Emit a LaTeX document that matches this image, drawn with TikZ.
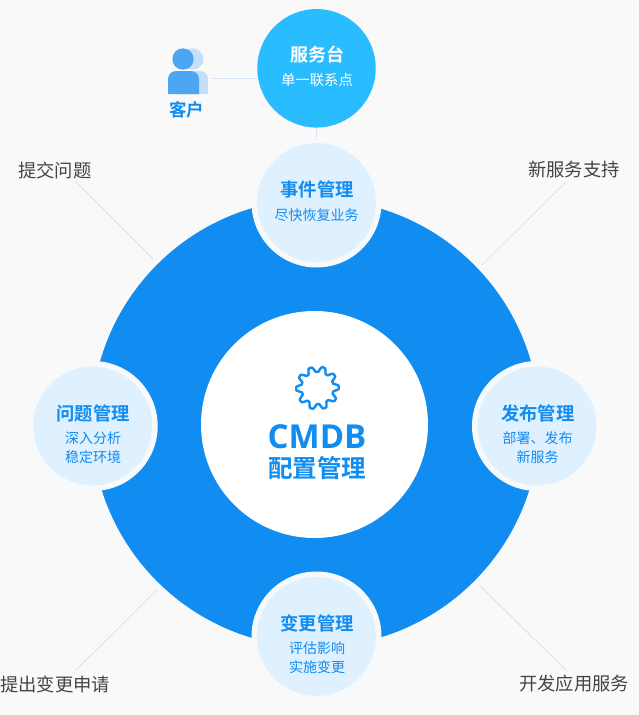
\documentclass[tikz,border=0pt]{standalone}
\usepackage{fontspec}
\setmainfont{Noto Sans CJK SC}
\newfontfamily\cjkb{Noto Sans CJK SC Bold}
\newfontfamily\latb{Open Sans}[BoldFont={* Bold}]
\definecolor{bg}{HTML}{F9F9F9}
\definecolor{mainblue}{HTML}{118CF0}
\definecolor{sky}{HTML}{29BCFF}
\definecolor{pale}{HTML}{DFF0FF}
\definecolor{ringc}{HTML}{F7F9FB}
\definecolor{linec}{HTML}{D7E6F4}
\definecolor{headc}{HTML}{4DA6F2}
\definecolor{backc}{HTML}{C5DFFB}
\definecolor{grayt}{HTML}{444444}
\tikzset{
  lead/.style={draw=linec,line width=1pt},
  sat/.style={circle,fill=pale,draw=ringc,line width=5.5pt,minimum size=124.5pt,inner sep=0pt},
  title/.style={font=\cjkb\fontsize{18.3}{20}\selectfont,text=mainblue,inner sep=0pt},
  sub/.style={font=\fontsize{14}{18.7}\selectfont,text=mainblue,align=center,inner sep=0pt},
  note/.style={font=\fontsize{18.3}{20}\selectfont,text=grayt,inner sep=0pt},
}
\begin{document}
\begin{tikzpicture}[x=1pt,y=-1pt]
\useasboundingbox (0,0) rectangle (639,715);
\fill[bg] (0,0) rectangle (639,715);
% leaders
\node[note,anchor=center] (ntl) at (55,170) {提交问题};
\node[note,anchor=center] (ntr) at (574,170) {新服务支持};
\node[note,anchor=center] (nbl) at (55,684) {提出变更申请};
\node[note,anchor=center] (nbr) at (574,684) {开发应用服务};
\coordinate (ltl) at (153,259);
\coordinate (ltr) at (482,265);
\coordinate (lbl) at (157,590);
\coordinate (lbr) at (479,585);
\draw[lead] (75,181) -- (ltl);
\draw[lead] (566,182) -- (ltr);
\draw[lead] (75,671) -- (lbl);
\draw[lead] (567,671) -- (lbr);
% big disc
\node[circle,fill=mainblue,minimum size=448pt,inner sep=0pt] (big) at (315.5,423) {};
\node[circle,fill=white,minimum size=227pt,inner sep=0pt] (core) at (314.5,424.5) {};
% gear
\draw[mainblue,line width=2.4pt,line join=round]
  plot[domain=0:360,samples=240,smooth] ({317.5+(18.7+2.6*max(-1,min(1,1.4*cos(10*\x+18))))*cos(\x)},{388+(18.7+2.6*max(-1,min(1,1.4*cos(10*\x+18))))*sin(\x)}) -- cycle;
\node[font=\latb\bfseries\fontsize{33}{36}\selectfont,text=mainblue,inner sep=0pt] (cmdb) at (317,437) {CMDB};
\node[font=\cjkb\fontsize{24.5}{28}\selectfont,text=mainblue,inner sep=0pt] (cfg) at (317,468) {配置管理};
% satellites
\node[sat] (event) at (316.5,202.5) {};
\node[sat] (prob) at (92.7,426) {};
\node[sat] (rel) at (537,426) {};
\node[sat] (chg) at (316.5,636.5) {};
\node[title] at (317,189) {事件管理};
\node[sub] at (316.5,215) {尽快恢复业务};
\node[title] at (93,413) {问题管理};
\node[sub] at (93,447.5) {深入分析\\稳定环境};
\node[title] at (537.7,413) {发布管理};
\node[sub] at (537.7,447.5) {部署、发布\\新服务};
\node[title] at (317,623) {变更管理};
\node[sub] at (317,657.5) {评估影响\\实施变更};
% service desk
\coordinate (cust) at (212,78);
\node[circle,fill=sky,minimum size=118.5pt,inner sep=0pt] (desk) at (316.5,68.3) {};
\node[font=\cjkb\fontsize{18}{20}\selectfont,text=white,inner sep=0pt] at (317,55) {服务台};
\node[font=\fontsize{14.4}{16}\selectfont,text=white,inner sep=0pt] at (317,80) {单一联系点};
\draw[lead] (desk) -- (event);
% customer
\fill[backc] (192.7,59) circle (10.7);
\fill[backc] (178,94) -- (178,71) {[rounded corners=8pt] -- (208,71)} -- (208,94) -- cycle;
\fill[headc] (183,59) circle (10.7);
\fill[headc] (168,94) {[rounded corners=8pt] -- (168,71) -- (199,71)} -- (199,94) -- cycle;
\draw[lead] (cust) -- (desk.west |- cust);
\node[font=\cjkb\fontsize{17.5}{20}\selectfont,text=mainblue,inner sep=0pt] (kh) at (186.5,110) {客户};
\end{tikzpicture}
\end{document}
